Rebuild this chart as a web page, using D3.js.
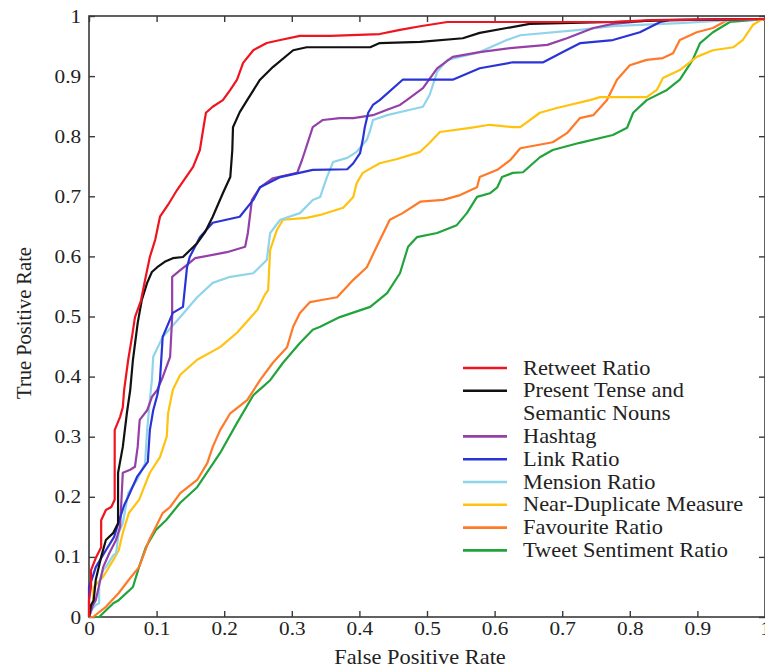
<!DOCTYPE html>
<html>
<head>
<meta charset="utf-8">
<script src="https://cdn.jsdelivr.net/npm/d3@7"></script>
<style>
  html, body { margin: 0; padding: 0; background: #fff; }
  svg { display: block; }
  text { font-family: "Liberation Serif", "Times New Roman", "DejaVu Serif", serif; fill: #222; }
</style>
</head>
<body>
<svg id="chart" width="765" height="671"></svg>
<script>
// ---------------- data ----------------
const seriesNames = ["Retweet Ratio", "Present Tense and\nSemantic Nouns", "Hashtag", "Link Ratio",
  "Mension Ratio", "Near-Duplicate Measure", "Favourite Ratio", "Tweet Sentiment Ratio"];
const seriesColors = ["#f0141e", "#111111", "#9540a8", "#2a33d6", "#8fd4ea", "#ffc30f", "#ff7a28", "#22a33c"];

const retweetRatio = [[0,0],[0,0.028],[0.003,0.05],[0.003,0.078],[0.01,0.098],[0.018,0.116],[0.018,0.161],[0.025,0.178],[0.033,0.183],[0.038,0.195],[0.038,0.311],[0.046,0.333],[0.05,0.349],[0.052,0.378],[0.058,0.428],[0.064,0.469],[0.068,0.499],[0.077,0.527],[0.083,0.561],[0.09,0.599],[0.098,0.628],[0.105,0.666],[0.117,0.686],[0.13,0.71],[0.154,0.749],[0.164,0.777],[0.17,0.819],[0.173,0.839],[0.183,0.849],[0.198,0.86],[0.209,0.877],[0.219,0.894],[0.228,0.922],[0.243,0.943],[0.263,0.955],[0.283,0.96],[0.312,0.967],[0.357,0.967],[0.43,0.97],[0.46,0.977],[0.49,0.983],[0.53,0.99],[0.775,0.99],[0.83,0.993],[1,0.995]];
const presentTense = [[0,0],[0.003,0.02],[0.007,0.028],[0.01,0.062],[0.018,0.1],[0.025,0.128],[0.036,0.14],[0.043,0.156],[0.043,0.24],[0.05,0.283],[0.056,0.339],[0.061,0.378],[0.065,0.428],[0.072,0.489],[0.078,0.527],[0.086,0.556],[0.093,0.574],[0.101,0.582],[0.112,0.591],[0.124,0.597],[0.139,0.599],[0.16,0.622],[0.172,0.641],[0.183,0.666],[0.198,0.705],[0.209,0.732],[0.212,0.777],[0.213,0.815],[0.223,0.84],[0.234,0.86],[0.253,0.894],[0.272,0.915],[0.302,0.943],[0.322,0.948],[0.416,0.948],[0.43,0.955],[0.49,0.957],[0.553,0.963],[0.578,0.972],[0.618,0.98],[0.652,0.987],[0.775,0.99],[0.859,0.993],[1,0.995]];
const hashtag = [[0,0],[0.006,0.02],[0.01,0.028],[0.021,0.083],[0.03,0.106],[0.04,0.128],[0.046,0.15],[0.05,0.24],[0.061,0.245],[0.068,0.25],[0.072,0.283],[0.075,0.328],[0.086,0.344],[0.093,0.366],[0.101,0.378],[0.109,0.399],[0.12,0.433],[0.123,0.499],[0.123,0.566],[0.135,0.577],[0.145,0.586],[0.157,0.597],[0.204,0.607],[0.231,0.616],[0.235,0.639],[0.241,0.694],[0.253,0.715],[0.272,0.73],[0.308,0.739],[0.315,0.76],[0.32,0.777],[0.331,0.815],[0.346,0.827],[0.371,0.83],[0.391,0.83],[0.42,0.835],[0.441,0.844],[0.46,0.852],[0.47,0.86],[0.494,0.88],[0.515,0.913],[0.538,0.932],[0.578,0.94],[0.627,0.947],[0.678,0.952],[0.707,0.963],[0.746,0.98],[0.775,0.987],[0.834,0.993],[1,0.995]];
const linkRatio = [[0,0],[0,0.05],[0.004,0.062],[0.01,0.083],[0.025,0.111],[0.037,0.133],[0.044,0.158],[0.052,0.186],[0.058,0.2],[0.071,0.233],[0.087,0.258],[0.09,0.311],[0.095,0.344],[0.101,0.369],[0.105,0.394],[0.109,0.466],[0.124,0.506],[0.139,0.516],[0.145,0.582],[0.149,0.599],[0.164,0.632],[0.183,0.656],[0.223,0.666],[0.243,0.694],[0.253,0.715],[0.283,0.732],[0.331,0.744],[0.382,0.745],[0.391,0.755],[0.401,0.772],[0.405,0.794],[0.408,0.815],[0.413,0.839],[0.42,0.852],[0.43,0.86],[0.464,0.894],[0.538,0.894],[0.578,0.913],[0.627,0.923],[0.672,0.923],[0.701,0.94],[0.727,0.955],[0.775,0.96],[0.815,0.973],[0.845,0.99],[0.859,0.993],[1,0.995]];
const mensionRatio = [[0,0],[0.004,0.012],[0.01,0.02],[0.015,0.023],[0.015,0.057],[0.021,0.078],[0.025,0.083],[0.036,0.103],[0.04,0.106],[0.044,0.14],[0.05,0.156],[0.058,0.206],[0.071,0.228],[0.083,0.256],[0.086,0.311],[0.09,0.361],[0.093,0.394],[0.095,0.433],[0.109,0.466],[0.135,0.499],[0.16,0.532],[0.183,0.556],[0.209,0.566],[0.243,0.572],[0.263,0.594],[0.268,0.639],[0.283,0.661],[0.312,0.672],[0.331,0.694],[0.342,0.699],[0.352,0.732],[0.361,0.757],[0.382,0.764],[0.396,0.774],[0.411,0.794],[0.416,0.81],[0.42,0.827],[0.441,0.835],[0.475,0.844],[0.494,0.849],[0.504,0.869],[0.515,0.907],[0.53,0.927],[0.578,0.94],[0.618,0.96],[0.638,0.968],[0.726,0.977],[0.775,0.983],[0.874,0.988],[0.948,0.993],[1,0.995]];
const nearDuplicate = [[0,0],[0.006,0.02],[0.006,0.033],[0.007,0.05],[0.021,0.067],[0.036,0.095],[0.044,0.111],[0.05,0.14],[0.059,0.173],[0.074,0.195],[0.078,0.206],[0.09,0.24],[0.105,0.266],[0.115,0.3],[0.117,0.339],[0.124,0.378],[0.135,0.403],[0.16,0.428],[0.194,0.449],[0.219,0.473],[0.249,0.511],[0.26,0.536],[0.265,0.544],[0.268,0.611],[0.278,0.644],[0.287,0.661],[0.322,0.664],[0.342,0.669],[0.376,0.681],[0.391,0.699],[0.396,0.722],[0.405,0.739],[0.43,0.755],[0.456,0.762],[0.49,0.774],[0.504,0.789],[0.519,0.807],[0.564,0.814],[0.593,0.819],[0.627,0.815],[0.638,0.815],[0.667,0.839],[0.692,0.847],[0.741,0.86],[0.756,0.865],[0.825,0.865],[0.84,0.877],[0.849,0.897],[0.874,0.91],[0.899,0.932],[0.923,0.943],[0.953,0.948],[0.967,0.96],[0.982,0.985],[0.993,0.993],[1,0.995]];
const favouriteRatio = [[0,0],[0.006,0],[0.025,0.017],[0.044,0.04],[0.059,0.062],[0.074,0.083],[0.089,0.128],[0.099,0.15],[0.109,0.173],[0.12,0.183],[0.135,0.206],[0.16,0.228],[0.175,0.256],[0.183,0.283],[0.194,0.311],[0.209,0.339],[0.234,0.361],[0.253,0.394],[0.272,0.423],[0.293,0.449],[0.302,0.483],[0.312,0.506],[0.327,0.524],[0.342,0.527],[0.367,0.532],[0.391,0.561],[0.411,0.582],[0.428,0.622],[0.445,0.661],[0.464,0.672],[0.49,0.691],[0.524,0.694],[0.549,0.702],[0.574,0.715],[0.578,0.732],[0.604,0.744],[0.623,0.76],[0.638,0.78],[0.686,0.79],[0.707,0.805],[0.726,0.83],[0.746,0.835],[0.766,0.86],[0.781,0.894],[0.8,0.918],[0.825,0.927],[0.849,0.93],[0.864,0.938],[0.874,0.96],[0.899,0.973],[0.923,0.98],[0.944,0.993],[1,0.995]];
const tweetSentiment = [[0,0],[0.015,0],[0.036,0.023],[0.044,0.028],[0.065,0.05],[0.074,0.083],[0.084,0.116],[0.099,0.145],[0.114,0.161],[0.135,0.19],[0.16,0.216],[0.194,0.273],[0.219,0.323],[0.243,0.369],[0.257,0.383],[0.268,0.394],[0.287,0.423],[0.312,0.456],[0.331,0.478],[0.342,0.483],[0.371,0.499],[0.416,0.516],[0.441,0.539],[0.46,0.572],[0.472,0.616],[0.485,0.632],[0.515,0.639],[0.544,0.652],[0.559,0.672],[0.574,0.699],[0.593,0.705],[0.604,0.715],[0.611,0.732],[0.627,0.739],[0.642,0.74],[0.667,0.765],[0.686,0.777],[0.726,0.789],[0.775,0.802],[0.796,0.814],[0.805,0.839],[0.825,0.86],[0.855,0.877],[0.874,0.894],[0.893,0.927],[0.904,0.955],[0.923,0.973],[0.948,0.99],[1,0.995]];

const seriesValues = [retweetRatio, presentTense, hashtag, linkRatio, mensionRatio, nearDuplicate, favouriteRatio, tweetSentiment];
const xTicks = [0, 0.1, 0.2, 0.3, 0.4, 0.5, 0.6, 0.7, 0.8, 0.9, 1];
const yTicks = [0, 0.1, 0.2, 0.3, 0.4, 0.5, 0.6, 0.7, 0.8, 0.9, 1];
const xTitle = "False Positive Rate";
const yTitle = "True Positive Rate";

// ---------------- drawing ----------------
const svg = d3.select("#chart");
const x = d3.scaleLinear().domain([0, 1]).range([89, 765]);
const y = d3.scaleLinear().domain([0, 1]).range([617, 16]);
const fmt = d => (d === 0 ? "0" : d === 1 ? "1" : d3.format(".1f")(d));
const axisColor = "#3a3a3a";
const stretch = 1.12; // the reference text is slightly wider than it is tall

// frame
svg.append("rect")
  .attr("x", x(0)).attr("y", y(1))
  .attr("width", x(1) - x(0)).attr("height", y(0) - y(1))
  .attr("fill", "none").attr("stroke", axisColor).attr("stroke-width", 1.6);

function styleAxis(g, showLabels) {
  g.select(".domain").remove();
  g.selectAll(".tick line").attr("stroke", axisColor).attr("stroke-width", 1.4);
  g.selectAll(".tick text").attr("font-size", 19).attr("fill", "#2a2a2a")
    .attr("transform", `scale(${stretch},1)`);
  if (!showLabels) g.selectAll(".tick text").remove();
}

svg.append("g").attr("transform", `translate(0,${y(0)})`)
  .call(d3.axisBottom(x).tickValues(xTicks).tickFormat(fmt).tickSizeInner(-6).tickSizeOuter(0).tickPadding(5))
  .call(g => styleAxis(g, true));
svg.append("g").attr("transform", `translate(0,${y(1)})`)
  .call(d3.axisTop(x).tickValues(xTicks).tickSizeInner(-6).tickSizeOuter(0))
  .call(g => styleAxis(g, false));
svg.append("g").attr("transform", `translate(${x(0)},0)`)
  .call(d3.axisLeft(y).tickValues(yTicks).tickFormat(fmt).tickSizeInner(-6).tickSizeOuter(0).tickPadding(7))
  .call(g => styleAxis(g, true));
svg.append("g").attr("transform", `translate(${x(1)},0)`)
  .call(d3.axisRight(y).tickValues(yTicks).tickSizeInner(-6).tickSizeOuter(0))
  .call(g => styleAxis(g, false));

// axis titles
svg.append("text").attr("transform", `translate(420,664) scale(${stretch},1)`).attr("text-anchor", "middle")
  .attr("font-size", 20).text(xTitle);
svg.append("text").attr("transform", `translate(31,323) rotate(-90)`).attr("text-anchor", "middle")
  .attr("font-size", 20.5).text(yTitle);

// curves
const line = d3.line().x(d => x(d[0])).y(d => y(d[1]));
const drawOrder = [7, 6, 5, 4, 2, 3, 1, 0];
svg.append("g").selectAll("path").data(drawOrder).join("path")
  .attr("d", i => line(seriesValues[i]))
  .attr("fill", "none")
  .attr("stroke", i => seriesColors[i])
  .attr("stroke-width", 2.2)
  .attr("stroke-linejoin", "round");

// legend
const legend = svg.append("g");
const legX = 463, legY0 = 368, legStep = 22.8;
let row = 0;
seriesNames.forEach((name, i) => {
  const lines = name.split("\n");
  const cy = legY0 + row * legStep;
  legend.append("line").attr("x1", legX).attr("x2", legX + 44)
    .attr("y1", cy).attr("y2", cy)
    .attr("stroke", seriesColors[i]).attr("stroke-width", 2.6);
  lines.forEach((t, k) => {
    legend.append("text")
      .attr("transform", `translate(${legX + 60},${cy + k * legStep}) scale(${stretch},1)`)
      .attr("dy", "0.33em").attr("font-size", 20).text(t);
  });
  row += lines.length;
});
</script>
</body>
</html>
